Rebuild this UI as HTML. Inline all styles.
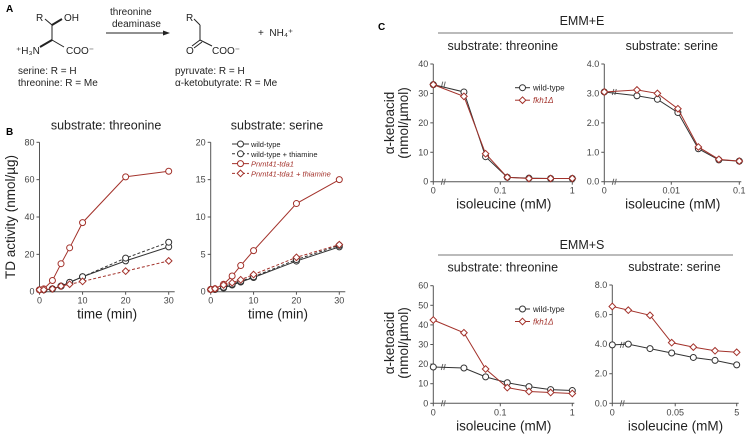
<!DOCTYPE html>
<html><head><meta charset="utf-8">
<style>
html,body{margin:0;padding:0;background:#fff;}
svg{display:block;font-family:"Liberation Sans",sans-serif;}
.tk{font-size:9px;fill:#444;}
.tt{font-size:13.5px;fill:#222;}
.st{font-size:12.5px;fill:#222;}
.lab{font-size:10px;font-weight:bold;}
.chem{font-size:10px;fill:#222;}
</style></head>
<body>
<svg id="fig" width="749" height="439" viewBox="0 0 749 439">
<g>
<text class="lab" x="6" y="12">A</text>
<text class="chem" x="36" y="21">R</text>
<text class="chem" x="64" y="21">OH</text>
<line x1="45" y1="19" x2="52" y2="25" stroke="#222"/><line x1="52" y1="25" x2="62" y2="19" stroke="#222" stroke-width="2"/>
<line x1="52" y1="25" x2="52" y2="40" stroke="#222"/>
<line x1="52" y1="40" x2="40" y2="47" stroke="#222" stroke-width="2"/><line x1="52" y1="40" x2="64" y2="47" stroke="#222"/>
<text class="chem" x="16" y="54">⁺H₃N</text>
<text class="chem" x="66" y="54">COO⁻</text>
<text class="chem" x="18" y="74">serine: R = H</text>
<text class="chem" x="18" y="86">threonine: R = Me</text>
<text class="chem" x="110" y="15">threonine</text>
<text class="chem" x="112" y="27">deaminase</text>
<line x1="106" y1="33" x2="166" y2="33" stroke="#222"/><polygon points="170,33 163,30.5 163,35.5" fill="#222"/>
<text class="chem" x="186" y="21">R</text>
<line x1="194" y1="19" x2="200" y2="25" stroke="#222"/><line x1="200" y1="25" x2="200" y2="40" stroke="#222"/>
<line x1="200" y1="40" x2="192" y2="46" stroke="#222"/><line x1="202" y1="42" x2="194" y2="48" stroke="#222"/>
<line x1="200" y1="40" x2="212" y2="46" stroke="#222"/>
<text class="chem" x="186" y="54">O</text>
<text class="chem" x="212" y="54">COO⁻</text>
<text class="chem" x="258" y="36">+ &#160;NH₄⁺</text>
<text class="chem" x="175" y="74">pyruvate: R = H</text>
<text class="chem" x="175" y="86">α-ketobutyrate: R = Me</text>
</g>
<text class="lab" x="6" y="135">B</text>
<text class="lab" x="378" y="30">C</text>
<text class="st" x="582" y="25" text-anchor="middle">EMM+E</text>
<line x1="438" y1="33" x2="733" y2="33" stroke="#777"/>
<text class="st" x="582" y="249" text-anchor="middle">EMM+S</text>
<line x1="438" y1="255" x2="733" y2="255" stroke="#777"/>
<g id="plots"></g>
</svg>
<script>
// Panel B data
const bTimes=[0,1,3,5,7,10,20,30];
const bThrWT=[1,1,1.5,3,5,8,16.5,24];
const bThrWTth=[1,1,1.5,3,5,8,18,26.5];
const bThrTda=[1,1.5,6,15,23.5,37,61.5,64.5];
const bThrTdaTh=[1,1,1.5,3,4,5.5,11,16.5];
const bSerWT=[0.3,0.3,0.5,0.9,1.3,1.9,4.1,6.0];
const bSerWTth=[0.3,0.3,0.6,1.0,1.4,2.0,4.3,6.2];
const bSerTda=[0.3,0.4,1.0,2.1,3.5,5.5,11.8,15];
const bSerTdaTh=[0.3,0.4,0.9,1.2,1.6,2.3,4.6,6.3];
const bXTicks=[0,10,20,30];
const bThrYTicks=[0,20,40,60,80];
const bSerYTicks=[0,5,10,15,20];
// Panel C data
const cThrConc=[0,0.03125,0.0625,0.125,0.25,0.5,1];
const cSerConc=[0,0.003125,0.00625,0.0125,0.025,0.05,0.1];
const cSerSConc=[0,0.156,0.3125,0.625,1.25,2.5,5];
const eThrWT=[33,30.5,8.5,1.5,1.2,1.1,1.1];
const eThrFkh=[33,29,9.5,1.5,1.1,1.1,1.1];
const eSerWT=[3.05,2.92,2.8,2.35,1.12,0.74,0.7];
const eSerFkh=[3.05,3.12,3.0,2.48,1.18,0.76,0.7];
const sThrWT=[18.5,18,13.5,10.5,8.5,7,6.5];
const sThrFkh=[42.5,36,17.5,8,6,5.5,5];
const sSerWT=[3.95,4.0,3.7,3.4,3.1,2.9,2.6];
const sSerFkh=[6.55,6.3,5.95,4.1,3.8,3.55,3.45];
const cThrXTicks=[0,0.1,1];
const cSerXTicks=[0,0.01,0.1];
const cSerSXTickVals=[0,0.7,5];
const cSerSXTickLabels=["0","0.05","5"];
const eThrYTicks=[0,10,20,30,40];
const eSerYTicks=[0,1,2,3,4];
const eSerYLabels=["0.0","1.0","2.0","3.0","4.0"];
const sThrYTicks=[0,10,20,30,40,50,60];
const sSerYTicks=[0,2,4,6,8];
const sSerYLabels=["0.0","2.0","4.0","6.0","8.0"];

const NS="http://www.w3.org/2000/svg";
const root=document.getElementById('plots');
const RED="#a3322b";
function mk(tag,attrs,parent){const e=document.createElementNS(NS,tag);for(const k in attrs)e.setAttribute(k,attrs[k]);(parent||root).appendChild(e);return e;}
function txt(s,x,y,cls,anchor,parent){const t=mk('text',{x:x,y:y,class:cls,'text-anchor':anchor||'middle'},parent);t.textContent=s;return t;}

function marker(g,shape,x,y,color){
  if(shape==='c'){mk('circle',{cx:x,cy:y,r:3,fill:'#fff',stroke:color,'stroke-width':1},g);}
  else{mk('polygon',{points:`${x},${y-3.3} ${x+3.3},${y} ${x},${y+3.3} ${x-3.3},${y}`,fill:'#fff',stroke:color,'stroke-width':1},g);}
}
function series(g,xs,ys,sx,sy,color,dash,shape,name){
  const s=mk('g',{},g);
  
  
  const pts=xs.map((x,i)=>sx(x)+','+sy(ys[i])).join(' ');
  mk('polyline',{points:pts,fill:'none',stroke:color,'stroke-width':1,'stroke-dasharray':dash||'none'},s);
  xs.forEach((x,i)=>marker(s,shape,sx(x),sy(ys[i]),color));
}
function axes(g,x0,x1,y0,y1,yTicks,sy,yLabels,xTicks,sx,xLabels,xTitle){
  mk('line',{x1:x0,y1:y0,x2:x0,y2:y1,stroke:'#555'},g);
  mk('line',{x1:x0,y1:y0,x2:x1,y2:y0,stroke:'#555'},g);
  yTicks.forEach((v,i)=>{const y=sy(v);mk('line',{x1:x0-3,y1:y,x2:x0,y2:y,stroke:'#555'},g);txt(yLabels?yLabels[i]:String(v),x0-5,y+3,'tk','end',g);});
  xTicks.forEach((v,i)=>{const x=sx(v);mk('line',{x1:x,y1:y0,x2:x,y2:y0+3,stroke:'#555'},g);txt(xLabels?xLabels[i]:String(v),x,y0+12,'tk','middle',g);});
  const t=txt(xTitle,(x0+x1)/2,y0+27,'tt','middle',g);
  
  
}
// Panel B
function bChart(name,x0,x1,y0,y1,ymax,yt,d,title){
  const g=mk('g',{});
  
  
  const sx=v=>x0+(v/30)*(x1-x0), sy=v=>y0-(v/ymax)*(y0-y1);
  axes(g,x0,x1+6,y0,y1,yt,sy,null,bXTicks,sx,null,'time (min)');
  const st=txt(title,(x0+x1)/2+2,y1-13,'st','middle',g);
  
  
  series(g,bTimes,d[0],sx,sy,'#333',null,'c','series-wild-type');
  series(g,bTimes,d[1],sx,sy,'#333','3,2','c','series-wild-type-thiamine');
  series(g,bTimes,d[2],sx,sy,RED,null,'c','series-tda1');
  series(g,bTimes,d[3],sx,sy,RED,'3,2','d','series-tda1-thiamine');
  return g;
}
bChart('chart-b-threonine',39.5,168.7,291.7,142.3,80,bThrYTicks,[bThrWT,bThrWTth,bThrTda,bThrTdaTh],'substrate: threonine');
bChart('chart-b-serine',210.7,339.3,291.7,142.3,20,bSerYTicks,[bSerWT,bSerWTth,bSerTda,bSerTdaTh],'substrate: serine');
const yb=txt('TD activity (nmol/µg)',0,0,'tt','middle');
yb.setAttribute('transform','translate(15,217) rotate(-90)');


// B legend
const bLeg=[['wild-type','#333',null,'c','#222',false],['wild-type + thiamine','#333','3,2','c','#222',false],['Pnmt41-tda1',RED,null,'c',RED,true],['Pnmt41-tda1 + thiamine',RED,'3,2','d',RED,true]];
const lg=mk('g',{});


bLeg.forEach((e,i)=>{const y=144+i*9.8;
  const le=mk('g',{},lg);
  
  
  mk('line',{x1:232,y1:y,x2:249,y2:y,stroke:e[1],'stroke-dasharray':e[2]||'none'},le);
  marker(le,e[3],240.5,y,e[1]);
  const t=txt(e[0],251,y+3,'tk','start',le);t.setAttribute('style','font-size:7.5px;fill:'+e[4]+(e[5]?';font-style:italic':''));
});
// Panel C
function cChart(name,x0,xEnd,decadePx,xMaxVal,y0,y1,ymax,yt,yl,xt,xl,conc,wt,fk,title,legend){
  const g=mk('g',{});
  
  
  const sx=v=>v<=0?x0:xEnd+decadePx*Math.log10(v/xMaxVal);
  const sy=v=>y0-(v/ymax)*(y0-y1);
  axes(g,x0,xEnd+2,y0,y1,yt,sy,yl,xt,sx,xl,'isoleucine (mM)');
  [[x0+10,y0],[x0+10,sy(wt[0])]].forEach(p=>{mk('line',{x1:p[0]-2,y1:p[1]+3,x2:p[0]-0.5,y2:p[1]-3,stroke:'#666'},g);mk('line',{x1:p[0]+0.5,y1:p[1]+3,x2:p[0]+2,y2:p[1]-3,stroke:'#666'},g);});
  const st=txt(title,(x0+xEnd)/2,y1-14,'st','middle',g);
  
  
  series(g,conc,wt,sx,sy,'#333',null,'c','series-wild-type');
  series(g,conc,fk,sx,sy,RED,null,'d','series-fkh1-delta');
  if(legend){
    const lg=mk('g',{},g);
    
    
    [['wild-type','#333','c',false],['fkh1Δ',RED,'d',true]].forEach((e,i)=>{const y=legend[1]+i*12.5;
      const le=mk('g',{},lg);
      
      
      mk('line',{x1:legend[0],y1:y,x2:legend[0]+15,y2:y,stroke:e[1]},le);
      marker(le,e[2],legend[0]+7.5,y,e[1]);
      const t=txt(e[0],legend[0]+18,y+3,'tk','start',le);t.setAttribute('style','font-size:8px;fill:'+(e[3]?RED:'#222')+(e[3]?';font-style:italic':''));
    });
  }
}
cChart('chart-emme-threonine',433.3,572.3,72,1,181.7,64,40,eThrYTicks,null,cThrXTicks,null,cThrConc,eThrWT,eThrFkh,'substrate: threonine',[515,87.7]);
cChart('chart-emme-serine',604.3,739.3,68,0.1,181.7,64,4,eSerYTicks,eSerYLabels,cSerXTicks,null,cSerConc,eSerWT,eSerFkh,'substrate: serine',null);
cChart('chart-emms-threonine',433.3,572.3,72,1,403.3,285.7,60,sThrYTicks,null,cThrXTicks,null,cThrConc,sThrWT,sThrFkh,'substrate: threonine',[515,309]);
cChart('chart-emms-serine',612.3,736.7,72,5,403.3,285,8,sSerYTicks,sSerYLabels,cSerSXTickVals,cSerSXTickLabels,cSerSConc,sSerWT,sSerFkh,'substrate: serine',null);
[[123,'y-axis-title-emm-e'],[343,'y-axis-title-emm-s']].forEach(p=>{
  const g=mk('g',{transform:`translate(0,${p[0]})`});
  
  
  const a=txt('α-ketoacid',0,0,'tt','middle',g);a.setAttribute('transform','translate(394,0) rotate(-90)');
  const b=txt('(nmol/µmol)',0,0,'tt','middle',g);b.setAttribute('transform','translate(408,0) rotate(-90)');
});
</script>
</body></html>
